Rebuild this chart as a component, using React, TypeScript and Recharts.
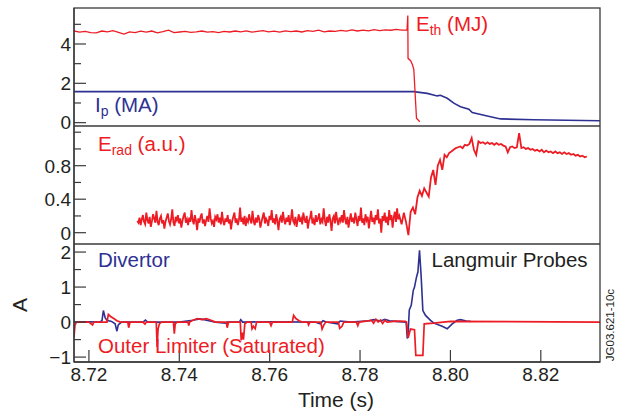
import React from 'react';
import { LineChart, Line, XAxis, YAxis } from 'recharts';

const RED = '#ED1C24';
const BLUE = '#2E3192';
const INK = '#231F20';
const FRAME = '#3a3a3a';
const FONT = '"Liberation Sans", Arial, Helvetica, sans-serif';

const X_DOMAIN: [number, number] = [8.7167, 8.8331];
const xTicks = [8.72, 8.74, 8.76, 8.78, 8.8, 8.82];

// ---- Panel 1: stored energy (MJ) and plasma current (MA)
const ethStart = 8.7167;
const ethStep = 0.00123;
const ethNoisy = [
  4.66, 4.6, 4.64, 4.58, 4.57, 4.66, 4.62, 4.68, 4.59, 4.5, 4.62, 4.58, 4.65, 4.6, 4.66,
  4.57, 4.63, 4.7, 4.58, 4.61, 4.64, 4.59, 4.62, 4.66, 4.6, 4.63, 4.58, 4.64, 4.61, 4.66,
  4.62, 4.67, 4.6, 4.64, 4.68, 4.62, 4.65, 4.6, 4.67, 4.63, 4.66, 4.61, 4.68, 4.64, 4.7,
  4.62, 4.66, 4.64, 4.69, 4.65, 4.72, 4.66, 4.7, 4.67, 4.73, 4.68, 4.72, 4.7, 4.74, 4.71,
];
const ethCollapse: [number, number][] = [
  [8.7904, 4.72], [8.79057, 5.45], [8.79062, 3.27], [8.7912, 3.15], [8.7916, 2.95],
  [8.7919, 2.7], [8.79249, 0.22], [8.79322, 0.05],
];
const ipPoints: [number, number][] = [
  [8.7167, 1.58], [8.79189, 1.58], [8.79486, 1.49], [8.79707, 1.36], [8.79778, 1.39],
  [8.79929, 1.24], [8.80075, 0.99], [8.80223, 0.81], [8.80408, 0.68], [8.80483, 0.51],
  [8.80815, 0.34], [8.8111, 0.19], [8.81847, 0.15], [8.83309, 0.1],
];
const p1Ticks = [0, 1, 2, 3, 4, 5];
const p1Major = [0, 2, 4];

// ---- Panel 2: radiated energy (a.u.)
const eradBaseStart = 8.7307;
const eradBaseStep = 0.00025;
const eradBase = [
  0.14, 0.12, 0.18, 0.09, 0.16, 0.21, 0.13, 0.1, 0.24, 0.15, 0.11, 0.19, 0.07, 0.14, 0.22, 0.17, 0.12, 0.26, 0.13, 0.09,
  0.17, 0.2, 0.11, 0.15, 0.05, 0.13, 0.18, 0.23, 0.14, 0.1, 0.16, 0.28, 0.12, 0.08, 0.19, 0.15, 0.21, 0.11, 0.17, 0.06,
  0.14, 0.2, 0.24, 0.12, 0.16, 0.09, 0.18, 0.13, 0.27, 0.15, 0.1, 0.21, 0.14, 0.03, 0.17, 0.12, 0.19, 0.23, 0.11, 0.16,
  0.08, 0.15, 0.2, 0.13, 0.29, 0.17, 0.11, 0.14, 0.07, 0.19, 0.16, 0.22, 0.12, 0.18, 0.1, 0.25, 0.14, 0.09, 0.17, 0.13,
  0.21, 0.11, 0.16, 0.04, 0.14, 0.19, 0.24, 0.12, 0.17, 0.09, 0.15, 0.3, 0.13, 0.18, 0.1, 0.2, 0.08, 0.16, 0.13, 0.22,
  0.15, 0.11, 0.26, 0.14, 0.09, 0.18, 0.12, 0.21, 0.16, 0.06, 0.13, 0.19, 0.24, 0.11, 0.17, 0.14, 0.08, 0.2, 0.15, 0.27,
  0.12, 0.17, 0.1, 0.22, 0.14, 0.03, 0.16, 0.19, 0.12, 0.25, 0.15, 0.1, 0.18, 0.13, 0.21, 0.09, 0.16, 0.28, 0.14, 0.11,
  0.19, 0.07, 0.15, 0.22, 0.13, 0.17, 0.1, 0.24, 0.16, 0.12, 0.2, 0.05, 0.14, 0.18, 0.26, 0.11, 0.15, 0.09, 0.21, 0.13,
  0.17, 0.23, 0.1, 0.16, 0.13, 0.29, 0.15, 0.08, 0.19, 0.12, 0.22, 0.14, 0.02, 0.17, 0.2, 0.11, 0.25, 0.15, 0.09, 0.18,
  0.14, 0.21, 0.12, 0.27, 0.16, 0.1, 0.19, 0.06, 0.15, 0.23, 0.13, 0.18, 0.11, 0.24, 0.16, 0.08, 0.2, 0.14, 0.3, 0.12,
  0.17, 0.09, 0.22, 0.15, 0.19, 0.05, 0.16, 0.26, 0.13, 0.18, 0.1, 0.21, 0.15, 0.28, 0.11, 0.17, 0.0, 0.2, 0.14, 0.24,
  0.12, 0.19, 0.09, 0.27, 0.15, 0.21, 0.06, 0.18, 0.25, 0.13, 0.29, 0.16,
];
const eradRiseStart = 8.7887;
const eradRiseStep = 0.0005;
const eradRise = [
  0.2, 0.1, 0.24, 0.12, -0.03, 0.25, 0.3, 0.22, 0.42, 0.5, 0.44, 0.53, 0.48, 0.43, 0.66, 0.75, 0.57,
  0.8, 0.87, 0.75, 0.93, 0.9, 0.95, 0.97, 0.99, 1.01, 1.02, 1.03, 1.01, 1.05, 1.04, 1.06, 1.13,
  0.99, 0.93, 1.09, 1.07, 1.08, 1.06, 1.08, 1.06, 1.07, 1.05, 1.07, 1.05, 1.06, 1.04, 1.03, 0.96, 1.02,
  1.03, 1.01, 1.02, 1.19, 1.01, 1.02, 1.0, 1.01, 0.99, 1.0, 0.98, 0.99, 0.97, 0.99, 0.96, 0.98, 0.96,
  0.97, 0.95, 0.97, 0.95, 0.96, 0.94, 0.96, 0.94, 0.95, 0.93, 0.94, 0.92, 0.93, 0.91, 0.92, 0.9, 0.91,
];
const p2Ticks = [0, 0.2, 0.4, 0.6, 0.8, 1.0, 1.2];
const p2Major = [0, 0.4, 0.8];

// ---- Panel 3: Langmuir probes (A)
const divertorPoints: [number, number][] = [
  [8.7167, 0.0], [8.72, 0.01], [8.7225, 0.0], [8.7229, 0.05], [8.7232, 0.33], [8.7236, 0.12],
  [8.724, 0.05], [8.725, 0.02], [8.7258, -0.05], [8.7262, -0.26], [8.7265, -0.08], [8.7272, 0.0],
  [8.732, 0.0], [8.7325, 0.06], [8.733, 0.0], [8.74, 0.0], [8.743, 0.05], [8.7445, 0.09],
  [8.7455, 0.07], [8.7468, 0.03], [8.748, 0.0], [8.7503, -0.03], [8.7506, 0.0], [8.7533, 0.0],
  [8.7536, 0.07], [8.754, 0.0], [8.76, 0.01], [8.77, 0.0], [8.7712, -0.05], [8.7718, 0.04],
  [8.7725, 0.0], [8.775, -0.05], [8.7756, 0.03], [8.778, 0.0], [8.782, 0.04], [8.783, 0.07],
  [8.7845, 0.03], [8.7855, 0.08], [8.7865, 0.04], [8.788, 0.02], [8.7902, 0.0], [8.79045, -0.47],
  [8.7906, -0.4], [8.7909, 0.35], [8.79133, 0.48], [8.79177, 0.9], [8.79205, 1.0], [8.7925, 1.29],
  [8.7928, 1.43], [8.79316, 2.05], [8.79353, 1.29], [8.7939, 0.33], [8.79449, 0.19], [8.7956, 0.05],
  [8.79633, -0.03], [8.79818, -0.12], [8.79929, -0.19], [8.8004, -0.05], [8.8015, 0.05],
  [8.80223, 0.07], [8.8035, 0.03], [8.80445, 0.02],
];
const limiterPoints: [number, number][] = [
  [8.7167, -0.43], [8.7169, -0.1], [8.7172, 0.0], [8.72, 0.0], [8.7208, -0.08], [8.7211, 0.0],
  [8.724, 0.0], [8.7243, 0.22], [8.7248, 0.16], [8.7255, 0.1], [8.7262, 0.04], [8.727, 0.0],
  [8.7286, 0.0], [8.7288, -0.16], [8.7291, 0.0], [8.732, 0.0], [8.7324, -0.06], [8.7327, 0.0],
  [8.7349, 0.0], [8.7351, -0.71], [8.7353, -0.2], [8.7356, -0.05], [8.736, 0.0], [8.7387, 0.0],
  [8.7389, -0.33], [8.7391, -0.05], [8.7395, 0.0], [8.7419, 0.0], [8.7421, -0.1], [8.7423, 0.0],
  [8.743, 0.05], [8.744, 0.1], [8.745, 0.07], [8.746, 0.1], [8.747, 0.05], [8.748, 0.0],
  [8.7504, 0.0], [8.7506, -0.16], [8.7509, 0.0], [8.7535, 0.0], [8.7537, -0.52], [8.754, -0.3],
  [8.7542, -0.5], [8.7545, -0.05], [8.755, 0.0], [8.7559, 0.0], [8.7561, -0.19], [8.7564, -0.12],
  [8.7568, -0.19], [8.7571, 0.0], [8.76, 0.0], [8.7603, -0.1], [8.7606, 0.0], [8.765, 0.0],
  [8.7653, 0.19], [8.7658, 0.1], [8.7665, 0.04], [8.7672, 0.0], [8.7684, 0.0], [8.7686, -0.08],
  [8.7689, 0.0], [8.7713, 0.0], [8.7716, -0.2], [8.772, -0.08], [8.7724, 0.0], [8.7752, 0.0],
  [8.7755, -0.18], [8.776, -0.12], [8.7764, 0.0], [8.7792, 0.0], [8.7795, -0.1], [8.7798, 0.0],
  [8.7825, 0.05], [8.783, -0.03], [8.7835, 0.08], [8.784, 0.0], [8.7845, 0.06], [8.785, -0.04],
  [8.7855, 0.05], [8.786, 0.0], [8.788, 0.03], [8.79, 0.02], [8.79028, 0.0], [8.79065, -0.45],
  [8.79116, -0.2], [8.79205, -0.22], [8.79234, -0.95], [8.7939, -0.95], [8.7942, -0.05],
  [8.7963, -0.03], [8.8, 0.02], [8.8331, 0.0],
];
const p3Ticks = [-1, -0.5, 0, 0.5, 1, 1.5, 2];
const p3Major = [-1, 0, 1, 2];

// ---- helpers to build library data
const seq = (start: number, step: number, vals: number[]) =>
  vals.map((v, i) => ({ t: start + i * step, v }));
const pairs = (p: [number, number][]) => p.map(([t, v]) => ({ t, v }));

const ethData = [...seq(ethStart, ethStep, ethNoisy), ...pairs(ethCollapse)];
const ipData = pairs(ipPoints);
const eradData = [
  ...seq(eradBaseStart, eradBaseStep, eradBase),
  ...seq(eradRiseStart, eradRiseStep, eradRise),
];
const divData = pairs(divertorPoints);
const limData = pairs(limiterPoints);

const fmtY = (v: number) => (v < 0 ? '\u2212' + Math.abs(v) : String(v));

const makeYTick = (major: number[]) => (props: any) => {
  const { x, y, payload } = props;
  const isMajor = major.some((m) => Math.abs(m - payload.value) < 1e-9);
  return (
    <g>
      <line x1={x} x2={x + (isMajor ? 12 : 7)} y1={y} y2={y} stroke={FRAME} strokeWidth={1.2} />
      {isMajor && (
        <text x={x - 3} y={y} dy="0.36em" textAnchor="end" fontSize={19} fill={INK} fontFamily={FONT}>
          {fmtY(payload.value)}
        </text>
      )}
    </g>
  );
};

const XTick = (props: any) => {
  const { x, y, payload } = props;
  return (
    <g>
      <line x1={x} x2={x} y1={y} y2={y - 12} stroke={FRAME} strokeWidth={1.2} />
      <text x={x} y={y + 19} textAnchor="middle" fontSize={19} fill={INK} fontFamily={FONT}>
        {Number(payload.value).toFixed(2)}
      </text>
    </g>
  );
};

const yAxisCommon = {
  width: 60,
  type: 'number' as const,
  interval: 0 as const,
  tickLine: false,
  tickSize: 0,
  tickMargin: 0,
  axisLine: { stroke: FRAME, strokeWidth: 1.3 },
};

export default function App() {
  return (
    <div style={{ position: 'absolute', left: 0, top: 0, width: 620, height: 414, background: '#fff', overflow: 'hidden' }}>
      {/* Panel 1: plot area y 8..126 */}
      <div style={{ position: 'absolute', left: 0, top: 0 }}>
        <LineChart width={620} height={140} margin={{ top: 8, right: 20, bottom: 14, left: 14 }}>
          <XAxis dataKey="t" type="number" domain={X_DOMAIN} allowDataOverflow hide />
          <YAxis {...yAxisCommon} domain={[-0.17, 5.83]} ticks={p1Ticks} tick={makeYTick(p1Major)} />
          <Line data={ipData} dataKey="v" type="linear" stroke={BLUE} strokeWidth={1.6} dot={false} isAnimationActive={false} />
          <Line data={ethData} dataKey="v" type="linear" stroke={RED} strokeWidth={1.3} dot={false} isAnimationActive={false} />
        </LineChart>
      </div>
      {/* Panel 2: plot area y 126..244 */}
      <div style={{ position: 'absolute', left: 0, top: 112 }}>
        <LineChart width={620} height={146} margin={{ top: 14, right: 20, bottom: 14, left: 14 }}>
          <XAxis dataKey="t" type="number" domain={X_DOMAIN} allowDataOverflow hide />
          <YAxis {...yAxisCommon} domain={[-0.135, 1.274]} ticks={p2Ticks} tick={makeYTick(p2Major)} />
          <Line data={eradData} dataKey="v" type="linear" stroke={RED} strokeWidth={1.8} dot={false} isAnimationActive={false} />
        </LineChart>
      </div>
      {/* Panel 3: plot area y 244..362 */}
      <div style={{ position: 'absolute', left: 0, top: 230 }}>
        <LineChart width={620} height={184} margin={{ top: 14, right: 20, bottom: 0, left: 14 }}>
          <XAxis
            dataKey="t"
            type="number"
            domain={X_DOMAIN}
            allowDataOverflow
            ticks={xTicks}
            interval={0}
            height={52}
            tickLine={false}
            tickSize={0}
            tickMargin={0}
            axisLine={{ stroke: FRAME, strokeWidth: 1.3 }}
            tick={XTick}
          />
          <YAxis {...yAxisCommon} domain={[-1.14, 2.23]} ticks={p3Ticks} tick={makeYTick(p3Major)} />
          <Line data={divData} dataKey="v" type="linear" stroke={BLUE} strokeWidth={1.6} dot={false} isAnimationActive={false} />
          <Line data={limData} dataKey="v" type="linear" stroke={RED} strokeWidth={1.7} dot={false} isAnimationActive={false} />
        </LineChart>
      </div>
      {/* Frame and annotations */}
      <svg width={620} height={414} style={{ position: 'absolute', left: 0, top: 0, pointerEvents: 'none' }} fontFamily={FONT}>
        <rect x={74} y={8} width={526} height={354} fill="none" stroke={FRAME} strokeWidth={1.3} />
        <line x1={74} x2={600} y1={126} y2={126} stroke={FRAME} strokeWidth={1.3} />
        <line x1={74} x2={600} y1={244} y2={244} stroke={FRAME} strokeWidth={1.3} />
        <text x={416} y={30.7} fill={RED} fontSize={20.5} style={{ whiteSpace: 'pre' }}>
          E<tspan dy={4.5} fontSize={14}>th</tspan><tspan dy={-4.5}> (MJ)</tspan>
        </text>
        <text x={95} y={111.7} fill={BLUE} fontSize={20.5} style={{ whiteSpace: 'pre' }}>
          I<tspan dy={4.5} fontSize={14}>p</tspan><tspan dy={-4.5}> (MA)</tspan>
        </text>
        <text x={98} y={150.7} fill={RED} fontSize={20.5} style={{ whiteSpace: 'pre' }}>
          E<tspan dy={4} fontSize={14}>rad</tspan><tspan dy={-4}> (a.u.)</tspan>
        </text>
        <text x={98} y={266.7} fill={BLUE} fontSize={20.5}>Divertor</text>
        <text x={431.5} y={267.3} fill={INK} fontSize={20.5}>Langmuir Probes</text>
        <text x={98} y={353.3} fill={RED} fontSize={20.5}>Outer Limiter (Saturated)</text>
        <text x={19} y={305} dy="0.36em" textAnchor="middle" fill={INK} fontSize={21} transform="rotate(-90 19 305)">A</text>
        <text x={336} y={406.5} textAnchor="middle" fill={INK} fontSize={21}>Time (s)</text>
        <text x={610} y={325} dy="0.36em" textAnchor="middle" fill={INK} fontSize={11.5} transform="rotate(-90 610 325)">JG03.621-10c</text>
      </svg>
    </div>
  );
}
